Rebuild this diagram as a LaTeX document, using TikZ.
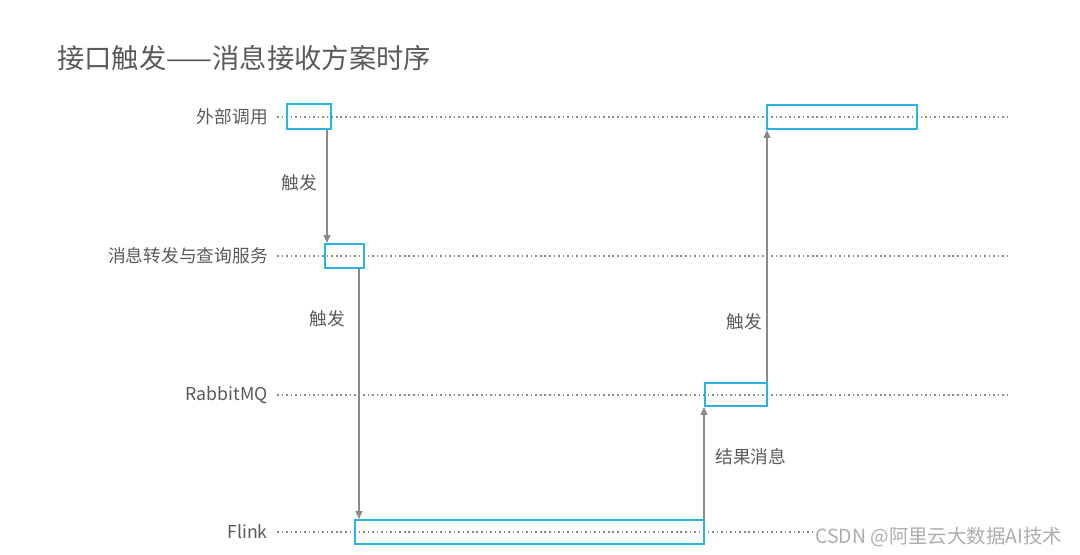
\documentclass[tikz,border=0pt]{standalone}
\usepackage{fontspec}
\setmainfont{Noto Sans CJK SC}
\usetikzlibrary{arrows.meta}
\definecolor{boxc}{HTML}{2BB3DF}
\definecolor{linec}{HTML}{8A8A8A}
\definecolor{txtc}{HTML}{5A5A5A}
\tikzset{
  lifeline/.style={draw=linec, line width=0.9pt, dash pattern=on 1.2pt off 2.2pt},
  actbox/.style={draw=boxc, line width=1.3pt, rectangle, inner sep=0pt},
  msg/.style={draw=linec, line width=1.1pt, -{Triangle[length=6pt,width=5pt]}},
  lbl/.style={text=txtc, font=\fontsize{13.3}{15}\selectfont, inner sep=0pt},
  msglbl/.style={text=txtc, font=\fontsize{13.3}{15}\selectfont, inner sep=0pt},
}
\begin{document}
\begin{tikzpicture}[x=0.75pt,y=-0.75pt]
\useasboundingbox (0,0) rectangle (1080,555);
% title
\node[anchor=west, text=txtc, font=\fontsize{20.5}{23}\selectfont, inner sep=0pt] (title) at (57,58) {接口触发——消息接收方案时序};
% lifeline labels
\node[lbl, anchor=east] (lA) at (268,117) {外部调用};
\node[lbl, anchor=east] (lB) at (268,256) {消息转发与查询服务};
\node[lbl, anchor=east] (lC) at (268,395) {RabbitMQ};
\node[lbl, anchor=east] (lD) at (268,532) {Flink};
% lifeline ends
\coordinate (a0) at (277,117); \coordinate (a1) at (1008,117);
\coordinate (b0) at (277,256); \coordinate (b1) at (1008,256);
\coordinate (c0) at (277,395); \coordinate (c1) at (1008,395);
\coordinate (d0) at (277,532); \coordinate (d1) at (812,532);
\draw[lifeline] (a0) -- (a1);
\draw[lifeline] (b0) -- (b1);
\draw[lifeline] (c0) -- (c1);
\draw[lifeline] (d0) -- (d1);
% activation boxes
\node[actbox, minimum width=33pt, minimum height=18.75pt] (A1) at (309,116.5) {};
\node[actbox, minimum width=29.25pt, minimum height=18pt] (B1) at (344.5,256) {};
\node[actbox, minimum width=46.5pt, minimum height=17.25pt] (C1) at (736,394.5) {};
\node[actbox, minimum width=261.75pt, minimum height=18pt] (D1) at (529.5,532) {};
\node[actbox, minimum width=112.5pt, minimum height=18pt] (A2) at (842,117) {};
% messages
\draw[msg] (A1.south -| 327,0) -- (B1.north -| 327,0) node[midway, msglbl, anchor=east, xshift=-7pt, yshift=3pt] (m1) {触发};
\draw[msg] (B1.south -| 359,0) -- (D1.north -| 359,0) node[pos=0.2, msglbl, anchor=east, xshift=-10pt] (m2) {触发};
\draw[msg] (D1.north -| 704,0) -- (C1.south -| 704,0) node[midway, msglbl, anchor=west, xshift=8pt, yshift=5pt] (m3) {结果消息};
\draw[msg] (C1.north -| 767,0) -- (A2.south -| 767,0) node[pos=0.26, msglbl, anchor=east, xshift=-3pt, yshift=-4pt] (m4) {触发};
% watermark
\node[anchor=west, text=linec!70, font=\fontsize{14.6}{16}\selectfont, inner sep=0pt] (wm) at (815,537) {CSDN @阿里云大数据AI技术};
\end{tikzpicture}
\end{document}
